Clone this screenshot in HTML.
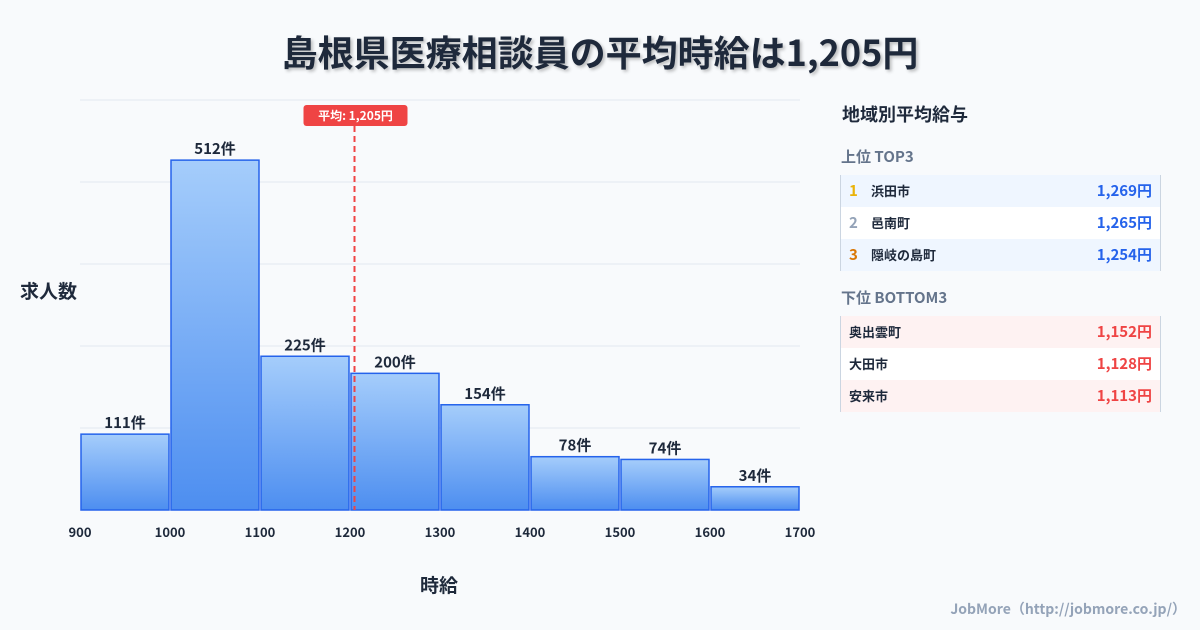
<!DOCTYPE html>
<html><head><meta charset="utf-8"><style>
body{margin:0;width:1200px;height:630px;background:#f8fafc;font-family:"Noto Sans CJK JP","Liberation Sans",sans-serif;position:relative;overflow:hidden;color:#1e293b}
.t{position:absolute;white-space:nowrap;line-height:1.2}
.row{position:absolute;left:840px;width:319px;height:32px;border-left:1px solid #cbd5e1;border-right:1px solid #cbd5e1;font-size:13px;font-weight:bold}
.row span{position:absolute;top:0;line-height:32px}
.v{right:8px;font-size:15px}
.n{left:8px;font-size:15px}
</style></head><body>
<div class="t" style="left:0;width:1200px;text-align:center;top:30px;font-size:36px;font-weight:bold;text-shadow:2px 2px 3px rgba(0,0,0,0.25)">島根県医療相談員の平均時給は1,205円</div>
<svg id="ch" width="1200" height="630" style="position:absolute;left:0;top:0;font-family:'Noto Sans CJK JP',sans-serif">
<defs><linearGradient id="g" x1="0" y1="0" x2="0" y2="1"><stop offset="0" stop-color="#a5cdfb"/><stop offset="1" stop-color="#4d8ef0"/></linearGradient></defs>
</svg>
<div class="t" style="left:20px;top:280px;font-size:19px;font-weight:bold">求人数</div>
<div class="t" style="left:420px;top:574px;font-size:19px;font-weight:bold">時給</div>
<div class="t" style="left:842px;top:104px;font-size:18px;font-weight:bold">地域別平均給与</div>
<div class="t" style="left:841px;top:148px;font-size:15px;font-weight:bold;color:#64748b">上位 TOP3</div>
<div class="row" style="top:175px;background:#eff6ff"><span class="n" style="color:#eab308">1</span><span style="left:30px">浜田市</span><span class="v" style="color:#2563eb">1,269円</span></div>
<div class="row" style="top:207px;background:#fff"><span class="n" style="color:#94a3b8">2</span><span style="left:30px">邑南町</span><span class="v" style="color:#2563eb">1,265円</span></div>
<div class="row" style="top:239px;background:#eff6ff"><span class="n" style="color:#d97706">3</span><span style="left:30px">隠岐の島町</span><span class="v" style="color:#2563eb">1,254円</span></div>
<div class="t" style="left:841px;top:289px;font-size:15px;font-weight:bold;color:#64748b">下位 BOTTOM3</div>
<div class="row" style="top:316px;background:#fef2f2"><span style="left:8px">奥出雲町</span><span class="v" style="color:#ef4444">1,152円</span></div>
<div class="row" style="top:348px;background:#fff"><span style="left:8px">大田市</span><span class="v" style="color:#ef4444">1,128円</span></div>
<div class="row" style="top:380px;background:#fef2f2"><span style="left:8px">安来市</span><span class="v" style="color:#ef4444">1,113円</span></div>
<div class="t" style="right:14px;top:601px;font-size:14px;font-weight:bold;color:#94a3b8">JobMore（http://jobmore.co.jp/）</div>
<script>
const binStarts=[900,1000,1100,1200,1300,1400,1500,1600];
const counts=[111,512,225,200,154,78,74,34];
const xTicks=[900,1000,1100,1200,1300,1400,1500,1600,1700];
const avg=1205;
const yMax=600;
const svg=document.getElementById('ch');const NS='http://www.w3.org/2000/svg';
const x=v=>80+(v-900)*0.9, y=v=>510-v*410/yMax;
function mk(t,a,txt){const e=document.createElementNS(NS,t);for(const k in a)e.setAttribute(k,a[k]);if(txt!=null)e.textContent=txt;svg.appendChild(e);return e;}
for(let i=0;i<=5;i++){const g=mk('line',{x1:80,x2:800,y1:y(i*120),y2:y(i*120),stroke:'#e2e8f0'});

}
binStarts.forEach((b,i)=>{const r=mk('rect',{x:x(b)+1,y:y(counts[i]),width:x(b+100)-x(b)-2,height:510-y(counts[i]),fill:'url(#g)',stroke:'#2563eb','stroke-width':1.5});


const l=mk('text',{x:(x(b)+x(b+100))/2,y:y(counts[i])-6,'text-anchor':'middle','font-size':15,'font-weight':'bold',fill:'#1e293b'},counts[i]+'件');

});
xTicks.forEach(t=>{const e=mk('text',{x:x(t),y:537,'text-anchor':'middle','font-size':13,'font-weight':'bold',fill:'#1e293b'},t);

});
const al=mk('line',{x1:x(avg),x2:x(avg),y1:126,y2:510,stroke:'#ef4444','stroke-width':2,'stroke-dasharray':'6,4'});


const ab=mk('rect',{x:x(avg)-51,y:105,width:104,height:21,rx:3,fill:'#ef4444'});


const at=mk('text',{x:x(avg)+1,y:120,'text-anchor':'middle','font-size':12,'font-weight':'bold',fill:'#fff'},'平均: 1,205円');


</script>
</body></html>
